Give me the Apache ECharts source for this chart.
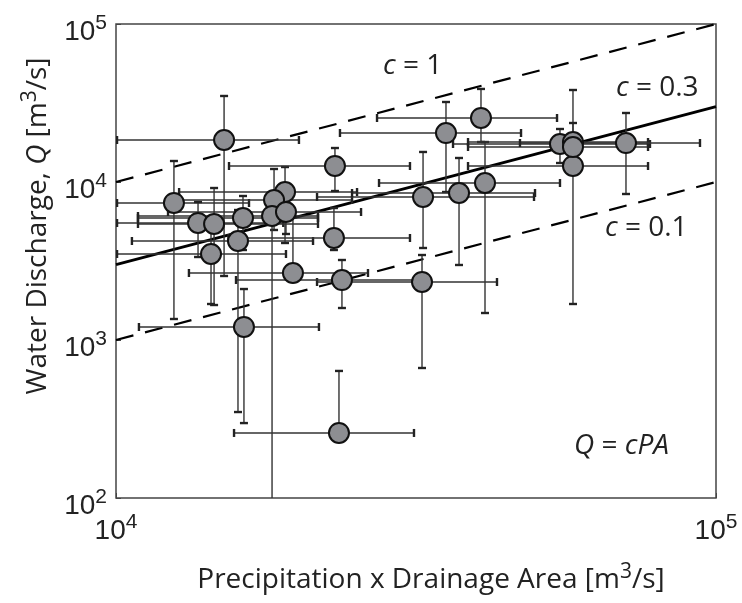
<!DOCTYPE html>
<html><head><meta charset="utf-8">
<script src="https://cdn.jsdelivr.net/npm/echarts@6/dist/echarts.min.js"></script>
<style>html,body{margin:0;padding:0;background:#fff}#c{width:742px;height:603px}</style>
</head><body><div id="c"></div>
<script>
// Precipitation x Drainage Area (PA) [m3/s] and water discharge Q [m3/s]
const pa     = [15140, 12490, 19130, 18340, 18200, 19200, 13700, 14570, 16280, 14400, 15970, 23170, 23080, 19720, 16340, 23530, 32360, 23800, 32490, 35480, 40580, 37300, 41210, 54950, 57760, 57760, 57760, 70790];
const q      = [18440, 7365, 8643, 7693, 6094, 6458, 5503, 5423, 5918, 3502, 4233, 12630, 4423, 2655, 1209, 258, 2329, 2397, 8037, 20420, 25420, 8519, 9856, 17400, 17910, 12630, 16650, 17650];
const paLow  = [10040, 10040, 12740, 12160, 10880, 12210, 10040, 10880, 10880, 10040, 10630, 15430, 15400, 13230, 10920, 15730, 21630, 15850, 21630, 23620, 27230, 24740, 27440, 36450, 38610, 38610, 38610, 47130];
const paHigh = [20180, 16660, 25220, 24740, 21710, 25610, 19000, 21710, 21710, 19200, 21300, 30900, 30900, 26300, 21790, 31380, 43150, 32110, 49740, 47320, 54330, 49930, 54950, 77620, 77040, 77040, 77040, 94040];
const qLow   = [2542, 1358, 4111, 4969, 90, 4688, 3352, 1665, 3712, 1690, 350, 8770, 3712, 2400, 298, 258, 665, 1594, 3822, 8643, 17910, 2984, 1482, 13190, 13000, 1690, 11910, 8396];
const qHigh  = [35030, 13580, 12440, 12090, 7900, 8900, 7472, 9162, 8155, 4969, 6650, 16410, 6846, 6000, 2102, 637, 3451, 3209, 15490, 32090, 38815, 14190, 17910, 21650, 38220, 15940, 23630, 27340];
// reference lines Q = c * PA
const coefs = [1, 0.3, 0.1];
const lineEnds = [10000, 100000];
const xTicks = [1e4, 1e5];
const yTicks = [1e2, 1e3, 1e4, 1e5];

const chart = echarts.init(document.getElementById('c'));
const tickFont = 'Liberation Sans, Arial, sans-serif';
const textFont = 'Open Sans, Noto Sans, sans-serif';

function expLabel(v) {
  const e = Math.round(Math.log10(v));
  return '{b|10}{s|' + e + '}';
}

const errData = pa.map((x, i) => [x, q[i], paLow[i], paHigh[i], qLow[i], qHigh[i]]);
const capW = 4;

const refSeries = coefs.map(c => ({
  type: 'line',
  data: lineEnds.map(x => [x, c * x]),
  symbol: 'none',
  silent: true,
  z: 3,
  lineStyle: {
    color: '#000',
    width: c === 0.3 ? 3 : 2.2,
    type: c === 0.3 ? 'solid' : [18, 12]
  }
}));

const italicRich = { i: { fontStyle: 'italic', fontSize: 28, fontFamily: textFont, fill: '#222' } };

chart.setOption({
  animation: false,
  grid: { left: 116, top: 24, width: 600, height: 474, show: true, borderColor: '#444', borderWidth: 1.5, backgroundColor: '#fff' },
  xAxis: {
    type: 'log', logBase: 10, min: xTicks[0], max: xTicks[xTicks.length - 1],
    axisLine: { show: false },
    axisTick: { show: true, inside: true, length: 5, lineStyle: { color: '#444' } },
    splitLine: { show: false }, minorTick: { show: false },
    axisLabel: {
      margin: 14, formatter: expLabel, fontSize: 28,
      rich: {
        b: { fontFamily: tickFont, fontSize: 28, color: '#222' },
        s: { fontFamily: tickFont, fontSize: 21, color: '#222', padding: [0, 0, 18, 0] }
      }
    }
  },
  yAxis: {
    type: 'log', logBase: 10, min: yTicks[0], max: yTicks[yTicks.length - 1],
    axisLine: { show: false },
    axisTick: { show: true, inside: true, length: 5, lineStyle: { color: '#444' } },
    splitLine: { show: false }, minorTick: { show: false },
    axisLabel: {
      margin: 9, formatter: expLabel, fontSize: 28,
      rich: {
        b: { fontFamily: tickFont, fontSize: 28, color: '#222', padding: [16, 0, 0, 0] },
        s: { fontFamily: tickFont, fontSize: 21, color: '#222', padding: [0, 0, 2, 0] }
      }
    }
  },
  series: [
    ...refSeries,
    {
      type: 'custom',
      data: errData,
      clip: true,
      z: 4,
      silent: true,
      renderItem: function (params, api) {
        const x = api.value(0), y = api.value(1);
        const pl = api.coord([api.value(2), y]);
        const ph = api.coord([api.value(3), y]);
        const ql = api.coord([x, api.value(4)]);
        const qh = api.coord([x, api.value(5)]);
        const st = { stroke: '#333', lineWidth: 1.4 };
        const cs = { stroke: '#222', lineWidth: 2.4 };
        const ch = [];
        ch.push({ type: 'line', shape: { x1: pl[0], y1: pl[1], x2: ph[0], y2: ph[1] }, style: st });
        ch.push({ type: 'line', shape: { x1: ql[0], y1: ql[1], x2: qh[0], y2: qh[1] }, style: st });
        ch.push({ type: 'line', shape: { x1: pl[0], y1: pl[1] - capW, x2: pl[0], y2: pl[1] + capW }, style: cs });
        ch.push({ type: 'line', shape: { x1: ph[0], y1: ph[1] - capW, x2: ph[0], y2: ph[1] + capW }, style: cs });
        if (api.value(4) < y) ch.push({ type: 'line', shape: { x1: ql[0] - capW, y1: ql[1], x2: ql[0] + capW, y2: ql[1] }, style: cs });
        if (api.value(5) > y) ch.push({ type: 'line', shape: { x1: qh[0] - capW, y1: qh[1], x2: qh[0] + capW, y2: qh[1] }, style: cs });
        return { type: 'group', children: ch };
      }
    },
    {
      type: 'scatter',
      data: pa.map((x, i) => [x, q[i]]),
      symbol: 'circle',
      symbolSize: 20,
      z: 5,
      itemStyle: { color: '#8d8e92', borderColor: '#111', borderWidth: 2, opacity: 1 }
    }
  ],
  graphic: [
    { type: 'text', left: 383, top: 52, style: { text: '{i|c} = 1', font: '28px ' + textFont, fill: '#222', rich: italicRich } },
    { type: 'text', left: 616, top: 74, style: { text: '{i|c} = 0.3', font: '28px ' + textFont, fill: '#222', rich: italicRich } },
    { type: 'text', left: 605, top: 214, style: { text: '{i|c} = 0.1', font: '28px ' + textFont, fill: '#222', rich: italicRich } },
    { type: 'text', left: 574, top: 432, style: { text: '{i|Q} = {i|cPA}', font: '28px ' + textFont, fill: '#222', rich: italicRich } },
    { type: 'text', x: 431, y: 580, style: { text: 'Precipitation x Drainage Area [m{s|3}/s]', font: '28px ' + textFont, fill: '#222', align: 'center', verticalAlign: 'middle',
      rich: { s: { fontSize: 21, fontFamily: textFont, fill: '#222', padding: [0, 0, 16, 0] } } } },
    { type: 'text', x: 38, y: 226, rotation: Math.PI / 2, style: { text: 'Water Discharge, {i|Q} [m{s|3}/s]', font: '28px ' + textFont, fill: '#222', align: 'center', verticalAlign: 'middle',
      rich: { i: { fontStyle: 'italic', fontSize: 28, fontFamily: textFont, fill: '#222' }, s: { fontSize: 21, fontFamily: textFont, fill: '#222', padding: [0, 0, 16, 0] } } } }
  ]
});
</script>
</body></html>
